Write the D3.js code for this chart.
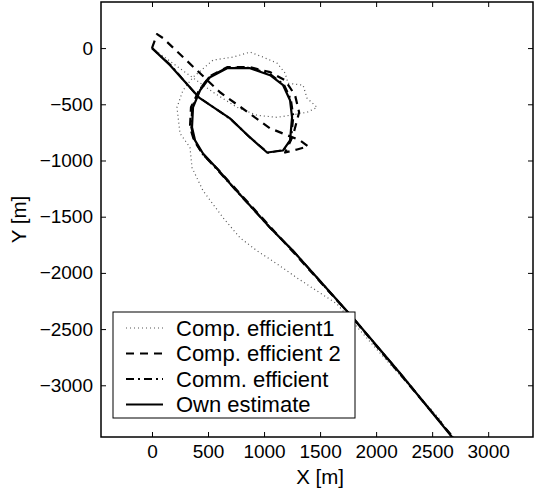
<!DOCTYPE html>
<html>
<head>
<meta charset="utf-8">
<script src="https://cdn.jsdelivr.net/npm/d3@7"></script>
<style>
  body { margin: 0; background: #fff; }
  svg { display: block; font-family: "Liberation Sans", Arial, Helvetica, sans-serif; }
</style>
</head>
<body>
<svg id="chart" width="534" height="492"></svg>
<script>
// tracks in metres, [x, y]
const ownEstimate = [
  [0, 0], [161, -152], [420, -440], [696, -625], [875, -795], [1027, -929],
  [1170, -911], [1232, -821], [1250, -616], [1232, -464], [1170, -330],
  [1054, -241], [875, -179], [670, -179], [518, -259], [429, -375],
  [366, -527], [357, -705], [384, -821], [455, -938], [580, -1071],
  [696, -1205], [1054, -1598], [1259, -1804], [1795, -2402], [2214, -2893],
  [2688, -3473], [2800, -3600]
];

const compEff2 = [
  [0, 0], [45, 125], [98, 89], [607, -393], [1054, -714], [1321, -821],
  [1393, -875], [1295, -902], [1188, -929], [1259, -777], [1313, -571],
  [1277, -420], [1188, -286], [1054, -214], [875, -170], [670, -170],
  [518, -250], [420, -375], [348, -527], [339, -705], [375, -821],
  [455, -946], [589, -1080], [1071, -1607], [1786, -2393], [2696, -3473],
  [2810, -3600]
];

const commEff = [
  [0, 0], [165, -150], [412, -434], [700, -630], [880, -800], [1035, -932],
  [1175, -905], [1240, -815], [1262, -610], [1240, -458], [1178, -325],
  [1060, -236], [880, -175], [665, -176], [512, -256], [422, -372],
  [358, -525], [350, -702], [378, -820], [450, -940], [575, -1075],
  [700, -1212], [1060, -1605], [1265, -1810], [1800, -2410], [2220, -2900],
  [2692, -3473], [2805, -3600]
];

const compEff1 = [
  [0, 0], [295, -214], [545, -393], [759, -527], [938, -598], [1116, -616],
  [1232, -598], [1384, -571], [1473, -527], [1384, -446], [1348, -330],
  [1214, -313], [1188, -223], [1116, -134], [991, -80], [875, -36],
  [723, -80], [545, -107], [366, -259], [277, -375], [223, -527],
  [250, -759], [339, -884], [357, -1063], [455, -1268], [634, -1509],
  [786, -1688], [938, -1804], [1116, -1920], [1295, -2045], [1473, -2161],
  [1652, -2277], [1768, -2411], [2036, -2714], [2304, -3009], [2571, -3304],
  [2679, -3473], [2760, -3600]
];

const xTicks = [0, 500, 1000, 1500, 2000, 2500, 3000];
const yTicks = [0, -500, -1000, -1500, -2000, -2500, -3000];
const legendLabels = ['Comp. efficient1', 'Comp. efficient 2', 'Comm. efficient', 'Own estimate'];

const svg = d3.select('#chart');
const margin = {left: 101, top: 2, right: 1, bottom: 55};
const width = 534 - margin.left - margin.right,
    height = 492 - margin.top - margin.bottom;

const x = d3.scaleLinear().domain([-455, 3400]).range([0, width]);
const y = d3.scaleLinear().domain([-3460, 410]).range([height, 0]);

const g = svg.append('g').attr('transform', `translate(${margin.left},${margin.top})`);

g.append('clipPath').attr('id', 'clip')
    .append('rect').attr('width', width).attr('height', height);

const styles = [
  {data: compEff1, stroke: '#555', width: 1.2, dash: '1,3'},
  {data: compEff2, stroke: '#000', width: 2.2, dash: '8,6'},
  {data: commEff, stroke: '#000', width: 2, dash: '8,4,2,4'},
  {data: ownEstimate, stroke: '#000', width: 2.2, dash: null},
];

const line = d3.line().x(d => x(d[0])).y(d => y(d[1]));

const plot = g.append('g').attr('clip-path', 'url(#clip)');
styles.forEach(s => {
  plot.append('path')
      .datum(s.data)
      .attr('d', line)
      .attr('fill', 'none')
      .attr('stroke', s.stroke)
      .attr('stroke-width', s.width)
      .attr('stroke-linejoin', 'round')
      .attr('stroke-dasharray', s.dash);
});

// axes, ticks point inward
const fmt = d3.format('d');
const axB = g.append('g').attr('transform', `translate(0,${height})`)
    .call(d3.axisBottom(x).tickValues(xTicks).tickFormat(fmt).tickSizeInner(-5).tickSizeOuter(0).tickPadding(8));
const axT = g.append('g')
    .call(d3.axisTop(x).tickValues(xTicks).tickFormat('').tickSizeInner(-5).tickSizeOuter(0));
const axL = g.append('g')
    .call(d3.axisLeft(y).tickValues(yTicks).tickFormat(fmt).tickSizeInner(-5).tickSizeOuter(0).tickPadding(8));
const axR = g.append('g').attr('transform', `translate(${width},0)`)
    .call(d3.axisRight(y).tickValues(yTicks).tickFormat('').tickSizeInner(-5).tickSizeOuter(0));

[axB, axT, axL, axR].forEach(a => {
  a.select('.domain').remove();
  a.selectAll('line').attr('stroke', '#000').attr('stroke-width', 1);
  a.selectAll('text').attr('fill', '#000').attr('font-size', 19).attr('font-family', null);
});

g.append('rect')
    .attr('width', width).attr('height', height)
    .attr('fill', 'none').attr('stroke', '#000').attr('stroke-width', 1.5);

g.append('text')
    .attr('x', x(1500)).attr('y', height + 47)
    .attr('text-anchor', 'middle').attr('font-size', 20.5)
    .text('X [m]');

g.append('text')
    .attr('transform', `translate(${-75},${height / 2}) rotate(-90)`)
    .attr('text-anchor', 'middle').attr('font-size', 20.5)
    .text('Y [m]');

// legend
const lg = svg.append('g').attr('transform', 'translate(113,312)');
lg.append('rect').attr('width', 242).attr('height', 106)
    .attr('fill', '#fff').attr('stroke', '#000').attr('stroke-width', 1);
legendLabels.forEach((label, i) => {
  const s = styles[i];
  const cy = 16 + i * 25.5;
  lg.append('line')
      .attr('x1', 13).attr('x2', 50).attr('y1', cy).attr('y2', cy)
      .attr('stroke', s.stroke).attr('stroke-width', s.width)
      .attr('stroke-dasharray', s.dash);
  lg.append('text')
      .attr('x', 63).attr('y', cy).attr('dy', '0.36em')
      .attr('font-size', 22)
      .text(label);
});
</script>
</body>
</html>
